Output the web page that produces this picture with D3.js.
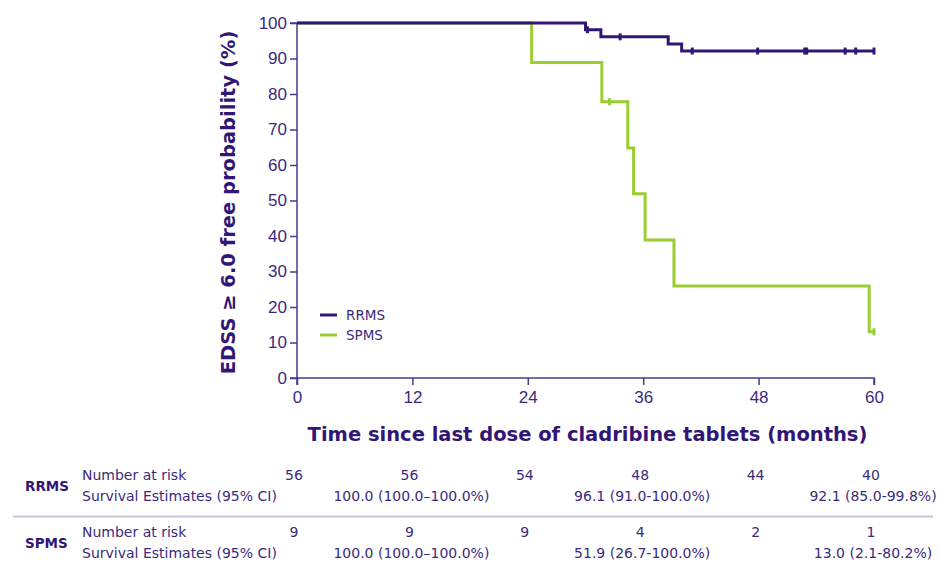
<!DOCTYPE html>
<html>
<head>
<meta charset="utf-8">
<script src="https://cdn.jsdelivr.net/npm/d3@7"></script>
<style>
  body { margin: 0; background: #fff; }
  svg { font-family: "DejaVu Sans", Verdana, sans-serif; }
</style>
</head>
<body>
<svg id="km" width="939" height="563"></svg>
<script>
// step times (months) and survival (%) for each group
var rrmsTimes = [0, 30.0, 31.6, 38.6, 40.0];
var rrmsSurv = [100, 98.1, 96.1, 94.1, 92.1];
var rrmsCensor = [30.2, 33.6, 41.1, 47.9, 52.8, 53.0, 57.0, 58.1, 60.0];

var spmsTimes = [0, 24.4, 31.7, 34.4, 35.0, 36.2, 39.2, 59.5];
var spmsSurv = [100, 88.9, 77.8, 64.8, 51.9, 38.9, 25.9, 13.0];
var spmsCensor = [32.5, 60.0];

var xTicks = [0, 12, 24, 36, 48, 60];
var yTicks = [0, 10, 20, 30, 40, 50, 60, 70, 80, 90, 100];

var groups = ["RRMS", "SPMS"];
var rrmsAtRisk = ["56", "56", "54", "48", "44", "40"];
var spmsAtRisk = ["9", "9", "9", "4", "2", "1"];
var estMonths = [12, 36, 60];
var rrmsEst = ["100.0 (100.0\u2013100.0%)", "96.1 (91.0-100.0%)", "92.1 (85.0-99.8%)"];
var spmsEst = ["100.0 (100.0\u2013100.0%)", "51.9 (26.7-100.0%)", "13.0 (2.1-80.2%)"];

var purple = "#311675", green = "#9acd32", textCol = "#3b2a7c";

var svg = d3.select("#km");
var x = d3.scaleLinear().domain([0, 60]).range([297, 874]);
var y = d3.scaleLinear().domain([0, 100]).range([378, 23]);

// axes
var yAxis = svg.append("g")
    .attr("transform", "translate(" + x(0) + ",0)")
    .call(d3.axisLeft(y).tickValues(yTicks).tickSize(7).tickPadding(3));
var xAxis = svg.append("g")
    .attr("transform", "translate(0," + y(0) + ")")
    .call(d3.axisBottom(x).tickValues(xTicks).tickSize(7).tickPadding(6));
[xAxis, yAxis].forEach(function(a) {
  a.select(".domain").attr("stroke", "#4a3a8a").attr("stroke-width", 1.5);
  a.selectAll(".tick line").attr("stroke", "#4a3a8a").attr("stroke-width", 1.5);
  a.selectAll(".tick text").attr("fill", textCol).style("font-size", "17px");
});
yAxis.select(".domain").attr("d", "M-7," + y(100) + "H0V" + y(0) + "H-7");
xAxis.select(".domain").attr("d", "M" + x(0) + ",7V0H" + x(60) + "V7");

svg.append("text")
    .attr("transform", "translate(235," + ((y(0) + y(100)) / 2 + 2) + ") rotate(-90)")
    .attr("text-anchor", "middle")
    .attr("fill", purple)
    .style("font-size", "19.5px").style("font-weight", "bold")
    .text("EDSS \u2265 6.0 free probability (%)");

svg.append("text")
    .attr("x", (x(0) + x(60)) / 2 + 2).attr("y", 441)
    .attr("text-anchor", "middle")
    .attr("fill", purple)
    .style("font-size", "19.5px").style("font-weight", "bold")
    .text("Time since last dose of cladribine tablets (months)");

function stepPoints(times, surv) {
  var pts = times.map(function(t, i) { return [t, surv[i]]; });
  pts.push([60, surv[surv.length - 1]]);
  return pts;
}
function survAt(times, surv, t) {
  var v = surv[0];
  times.forEach(function(tt, i) { if (tt <= t) v = surv[i]; });
  return v;
}

var line = d3.line()
    .x(function(d) { return x(d[0]); })
    .y(function(d) { return y(d[1]); })
    .curve(d3.curveStepAfter);

var series = [
  {times: spmsTimes, surv: spmsSurv, censor: spmsCensor, color: green},
  {times: rrmsTimes, surv: rrmsSurv, censor: rrmsCensor, color: purple}
];

series.forEach(function(s) {
  svg.append("path")
      .datum(stepPoints(s.times, s.surv))
      .attr("fill", "none")
      .attr("stroke", s.color)
      .attr("stroke-width", 3)
      .attr("d", line);
  svg.selectAll(null)
      .data(s.censor)
      .enter().append("line")
      .attr("x1", function(d) { return x(d); })
      .attr("x2", function(d) { return x(d); })
      .attr("y1", function(d) { return y(survAt(s.times, s.surv, d)) - 3.5; })
      .attr("y2", function(d) { return y(survAt(s.times, s.surv, d)) + 3.5; })
      .attr("stroke", s.color)
      .attr("stroke-width", 3);
});

// legend
var legend = svg.append("g").attr("transform", "translate(320,315)");
[purple, green].forEach(function(c, i) {
  legend.append("line")
      .attr("x1", 0).attr("x2", 17)
      .attr("y1", i * 20).attr("y2", i * 20)
      .attr("stroke", c).attr("stroke-width", 3);
  legend.append("text")
      .attr("x", 26).attr("y", i * 20).attr("dy", "0.35em")
      .attr("fill", textCol).style("font-size", "13.5px")
      .text(groups[i]);
});

// risk table
var table = [
  {name: groups[0], atRisk: rrmsAtRisk, est: rrmsEst, top: 475},
  {name: groups[1], atRisk: spmsAtRisk, est: spmsEst, top: 532}
];
table.forEach(function(r) {
  svg.append("text")
      .attr("x", 25).attr("y", r.top + 16)
      .attr("fill", purple).style("font-size", "13.5px").style("font-weight", "bold")
      .text(r.name);
  svg.append("text")
      .attr("x", 82).attr("y", r.top + 5)
      .attr("fill", textCol).style("font-size", "14px")
      .text("Number at risk");
  svg.append("text")
      .attr("x", 82).attr("y", r.top + 26)
      .attr("fill", textCol).style("font-size", "14px")
      .text("Survival Estimates (95% CI)");
  svg.selectAll(null)
      .data(r.atRisk)
      .enter().append("text")
      .attr("x", function(d, i) { return x(xTicks[i]) - 3; })
      .attr("y", r.top + 5)
      .attr("text-anchor", "middle")
      .attr("fill", textCol).style("font-size", "14px")
      .text(function(d) { return d; });
  svg.selectAll(null)
      .data(r.est)
      .enter().append("text")
      .attr("x", function(d, i) { return x(estMonths[i]) - 1; })
      .attr("y", r.top + 26)
      .attr("text-anchor", "middle")
      .attr("fill", textCol).style("font-size", "14px")
      .text(function(d) { return d; });
});

svg.append("line")
    .attr("x1", 13).attr("x2", 933)
    .attr("y1", 516.5).attr("y2", 516.5)
    .attr("stroke", "#c8c5d9").attr("stroke-width", 2);
</script>
</body>
</html>
